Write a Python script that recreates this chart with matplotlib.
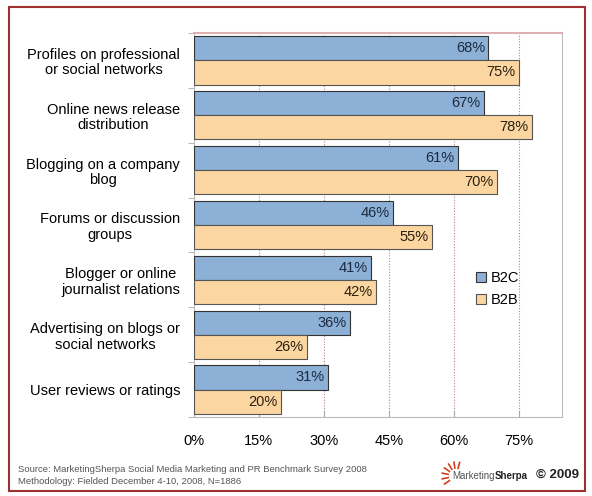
import matplotlib.pyplot as plt
import matplotlib.patches as mpatches
import numpy as np

plt.rcParams['font.family'] = ['Liberation Sans', 'DejaVu Sans']

categories = ['Profiles on professional\nor social networks',
              'Online news release\ndistribution',
              'Blogging on a company\nblog',
              'Forums or discussion\ngroups',
              'Blogger or online\njournalist relations',
              'Advertising on blogs or\nsocial networks',
              'User reviews or ratings']
b2c = [68, 67, 61, 46, 41, 36, 31]
b2b = [75, 78, 70, 55, 42, 26, 20]
xticks = [0, 15, 30, 45, 60, 75]

fig = plt.figure(figsize=(5.92, 4.96), dpi=100)
ax = fig.add_axes([0.3277, 0.1593, 0.6216, 0.7742])

y = np.arange(len(categories))
h = 0.44
blue = '#8DB0D6'
orange = '#FBD6A0'
ax.barh(y - h / 2, b2c, height=h, color=blue, edgecolor='#333333', linewidth=0.8, label='B2C', zorder=3)
ax.barh(y + h / 2, b2b, height=h, color=orange, edgecolor='#555555', linewidth=0.8, label='B2B', zorder=3)

for i in range(len(categories)):
    ax.text(b2c[i] - 0.8, y[i] - h / 2, f'{b2c[i]}%', ha='right', va='center', fontsize=10.5, color='#1a2a40', zorder=4)
    ax.text(b2b[i] - 0.8, y[i] + h / 2, f'{b2b[i]}%', ha='right', va='center', fontsize=10.5, color='#2a2010', zorder=4)

ax.set_xlim(0, 85)
ax.set_ylim(len(categories) - 0.5, -0.5)
ax.set_xticks(xticks)
ax.set_xticklabels([f'{t}%' for t in xticks], fontsize=10.5)
ax.set_yticks(y)
ax.set_yticklabels(categories, fontsize=10.5, linespacing=1.12, multialignment='center')
ax.set_yticks(np.arange(len(categories) + 1) - 0.5, minor=True)
ax.tick_params(axis='y', which='major', length=0, pad=10)
ax.tick_params(axis='y', which='minor', length=4, color='#aaaaaa', direction='out')
ax.tick_params(axis='x', length=4, color='#aaaaaa', pad=12, direction='in')
for t in xticks[1:]:
    ax.axvline(t, color='#b88080', linestyle=(0, (1, 1.5)), linewidth=0.8, zorder=1)

for s in ['right', 'bottom', 'left']:
    ax.spines[s].set_color('#bbbbbb')
ax.spines['top'].set_color('#e0b0b0')
ax.spines['top'].set_linewidth(1.5)

leg = ax.legend(loc='upper left', frameon=False, fontsize=10.5,
                handlelength=0.7, handleheight=0.7, handletextpad=0.3, labelspacing=0.55)
leg.set_bbox_to_anchor((463 / 592, 1 - 258 / 496), transform=fig.transFigure)

fig.patches.append(mpatches.Rectangle((9 / 592, 1 - 491 / 496), 576 / 592, 484 / 496,
                                      transform=fig.transFigure, fill=False,
                                      edgecolor='#a03030', linewidth=1.5))

fig.text(18 / 592, 1 - 469 / 496, 'Source: MarketingSherpa Social Media Marketing and PR Benchmark Survey 2008',
         fontsize=6.8, color='#555555', va='center')
fig.text(18 / 592, 1 - 481 / 496, 'Methodology: Fielded December 4-10, 2008, N=1886',
         fontsize=6.8, color='#555555', va='center')

# logo
fig.canvas.draw()
r = fig.canvas.get_renderer()
t1 = fig.text(452 / 592, 1 - 476 / 496, 'Marketing', fontsize=7, color='#555555', va='center')
x1 = t1.get_window_extent(r).x1
fig.text(x1 / 592, 1 - 476 / 496, 'Sherpa', fontsize=7, color='#222222', va='center', fontweight='bold')
fig.text(579 / 592, 1 - 475 / 496, '\u00a9 2009', fontsize=9.5, color='#222222', va='center', ha='right',
         fontweight='bold')
cx, cy = 456, 476
for a in np.linspace(75, 215, 7):
    rad = np.deg2rad(a)
    xs = [cx + 8 * np.cos(rad), cx + 14 * np.cos(rad)]
    ys = [cy - 8 * np.sin(rad), cy - 14 * np.sin(rad)]
    fig.add_artist(plt.Line2D([x / 592 for x in xs], [1 - v / 496 for v in ys],
                              color='#d04020', linewidth=1.2))

fig.savefig('out.png', dpi=100)
